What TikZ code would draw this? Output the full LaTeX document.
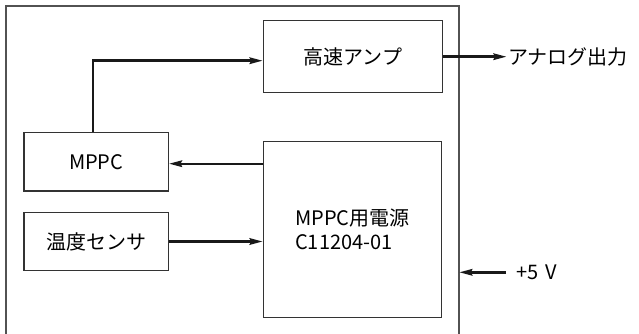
\documentclass[tikz,border=0pt]{standalone}
\usepackage{fontspec}
\setmainfont{Noto Sans CJK JP}
\usetikzlibrary{arrows.meta}
\begin{document}
\begin{tikzpicture}[x=1pt,y=-1pt,
  blk/.style={draw=black!80, line width=1.3pt, rectangle, inner sep=0pt, font=\fontsize{20pt}{23.7pt}\selectfont},
  lbl/.style={inner sep=0pt, font=\fontsize{20pt}{23.7pt}\selectfont},
  arr/.style={draw=black!90, line width=2.4pt, -{Stealth[length=13pt,width=6.5pt,inset=1.5pt]}},
  frm/.style={draw=black!68, line width=1.8pt}]
\useasboundingbox (0,0) rectangle (639,334);
\coordinate (ftl) at (5.7,5.7);
\coordinate (ftr) at (459.3,5.7);
\draw[frm] (5.7,336) -- (ftl) -- (ftr) -- (459.3,336);
\node[blk, minimum width=179pt, minimum height=72pt] (amp) at (352.8,56.7) {高速アンプ};
\node[blk, minimum width=144.3pt, minimum height=58.7pt] (mppc) at (96.2,161.7) {MPPC};
\node[blk, minimum width=144.3pt, minimum height=58.4pt] (temp) at (96.2,241.5) {温度センサ};
\node[blk, minimum width=178pt, minimum height=176.4pt, align=left] (psu) at (352.3,229.5) {MPPC用電源\\C11204-01};
\node[lbl, anchor=west] (out) at (508,56.7) {アナログ出力};
\node[lbl, anchor=west] (vin) at (516,272.3) {+5\hspace{7pt}V};
\coordinate (pin) at (vin.west -| ftr);
\draw[arr] (amp.east) -- ([xshift=-1.5pt]out.west);
\draw[arr] ([xshift=-3pt]mppc.north) |- ([yshift=-4pt]amp.west);
\draw[arr] ([yshift=-2pt]mppc.east -| psu.west) -- ([yshift=-2pt]mppc.east);
\draw[arr] (temp.east) -- (temp.east -| psu.west);
\draw[arr] ([xshift=-10pt]vin.west) -- (pin);
\end{tikzpicture}
\end{document}
